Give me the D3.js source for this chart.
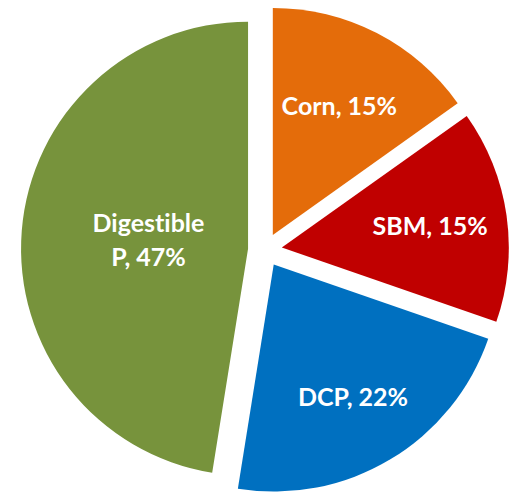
<!DOCTYPE html>
<html>
<head>
<meta charset="utf-8">
<script src="https://cdn.jsdelivr.net/npm/d3@7"></script>
<style>
  html, body { margin: 0; padding: 0; background: #ffffff; }
  svg { display: block; }
  text { font-variant-ligatures: none; }
</style>
</head>
<body>
<svg id="chart" width="510" height="497"></svg>
<script>
// ---- data ----
const categories = ["Corn", "SBM", "DCP", "Digestible P"];
const values = [15, 15, 22, 47];
const labelLines = [["Corn, 15%"], ["SBM, 15%"], ["DCP, 22%"], ["Digestible", "P, 47%"]];
const colors = ["#E46C0A", "#C00000", "#0070C0", "#77933C"];

// ---- layout ----
const width = 510, height = 497;
const cx = 265, cy = 250;
const radius = 227;
const explode = 17;
const labelFactor = { "Corn": 0.64, "SBM": 0.66, "DCP": 0.68, "Digestible P": 0.44 };

const svg = d3.select("#chart");
const g = svg.append("g").attr("transform", `translate(${cx},${cy})`);

const pie = d3.pie().sort(null).value(d => d.value);
const data = pie(categories.map((c, i) => ({ name: c, value: values[i], lines: labelLines[i], color: colors[i] })));

const arc = d3.arc().innerRadius(0).outerRadius(radius);

function offset(d, r) {
  const a = (d.startAngle + d.endAngle) / 2;
  return [Math.sin(a) * r, -Math.cos(a) * r];
}

const slices = g.selectAll("g.slice").data(data).enter().append("g")
  .attr("class", "slice")
  .attr("transform", d => { const [x, y] = offset(d, explode); return `translate(${x},${y})`; });

slices.append("path")
  .attr("d", arc)
  .attr("fill", d => d.data.color);

const fontSize = 25;
slices.each(function(d) {
  const [lx, ly] = offset(d, radius * labelFactor[d.data.name]);
  const n = d.data.lines.length;
  const lineH = 34;
  const t = d3.select(this).append("text")
    .attr("text-anchor", "middle")
    .attr("fill", "#ffffff")
    .attr("font-family", "Lato, 'Open Sans', sans-serif")
    .attr("font-weight", "bold")
    .attr("font-size", fontSize);
  d.data.lines.forEach((line, i) => {
    t.append("tspan")
      .attr("x", lx)
      .attr("y", ly + (i - (n - 1) / 2) * lineH)
      .attr("dy", "0.35em")
      .text(line);
  });
});
</script>
</body>
</html>
